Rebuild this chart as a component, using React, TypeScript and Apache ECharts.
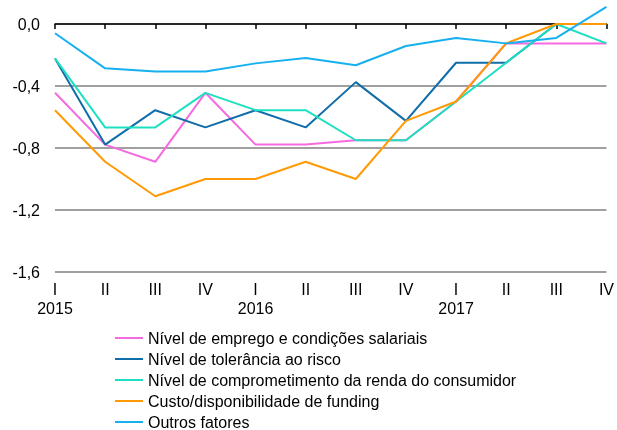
import React, { useEffect, useRef } from "react";
import * as echarts from "echarts";

const quarters = ["I", "II", "III", "IV", "I", "II", "III", "IV", "I", "II", "III", "IV"];
const years = ["2015", "", "", "", "2016", "", "", "", "2017", "", "", ""];

const seriesNames = [
  "Nível de emprego e condições salariais",
  "Nível de tolerância ao risco",
  "Nível de comprometimento da renda do consumidor",
  "Custo/disponibilidade de funding",
  "Outros fatores",
];

const emprego = [-0.444, -0.778, -0.889, -0.444, -0.778, -0.778, -0.75, -0.75, -0.5, -0.125, -0.125, -0.125];
const tolerancia = [-0.222, -0.778, -0.556, -0.667, -0.556, -0.667, -0.375, -0.625, -0.25, -0.25, 0, 0];
const comprometimento = [-0.222, -0.667, -0.667, -0.444, -0.556, -0.556, -0.75, -0.75, -0.5, -0.25, 0, -0.125];
const funding = [-0.556, -0.889, -1.111, -1.0, -1.0, -0.889, -1.0, -0.625, -0.5, -0.125, 0, 0];
const outros = [-0.06, -0.286, -0.306, -0.306, -0.254, -0.22, -0.266, -0.142, -0.09, -0.125, -0.09, 0.11];

const seriesData = [emprego, tolerancia, comprometimento, funding, outros];
const colors = ["#F66AE0", "#0F6DAA", "#1EE0C0", "#FF9A05", "#17B0EF"];

const FONT = "'Liberation Sans', Arial, sans-serif";

export default function App() {
  const ref = useRef<HTMLDivElement>(null);

  useEffect(() => {
    if (!ref.current) return;
    const chart = echarts.init(ref.current, undefined, { renderer: "svg" });
    const categories = quarters.map((q, i) => (years[i] ? q + "\n" + years[i] : q));
    chart.setOption({
      animation: false,
      textStyle: { fontFamily: FONT },
      grid: { left: 55, right: 5, top: 24, bottom: 158 },
      legend: {
        orient: "vertical",
        left: 115,
        top: 330,
        height: 120,
        padding: 0,
        icon: "rect",
        itemWidth: 28,
        itemHeight: 2,
        itemGap: 5,
        textStyle: { fontSize: 16, color: "#000", fontFamily: FONT },
        data: seriesNames,
      },
      xAxis: {
        type: "category",
        boundaryGap: false,
        data: categories,
        axisLine: { show: true, lineStyle: { color: "#000", width: 1.5 } },
        axisTick: { show: true, length: 5, lineStyle: { color: "#000", width: 1.5 }, interval: 0 },
        axisLabel: {
          interval: 0,
          fontSize: 16,
          lineHeight: 19,
          margin: 8,
          color: "#000",
          fontFamily: FONT,
        },
        splitLine: { show: false },
      },
      yAxis: {
        type: "value",
        min: -1.6,
        max: 0,
        interval: 0.4,
        axisLine: { show: false },
        axisTick: { show: false },
        axisLabel: {
          fontSize: 16,
          margin: 15,
          color: "#000",
          fontFamily: FONT,
          formatter: (v: number) => {
            const r = Math.abs(v) < 1e-9 ? 0 : v;
            return r.toFixed(1).replace(".", ",");
          },
        },
        splitLine: { show: true, lineStyle: { color: "#808080", width: 1.5 } },
      },
      series: seriesNames.map((name, i) => ({
        name,
        type: "line",
        data: seriesData[i],
        symbol: "none",
        clip: false,
        color: colors[i],
        itemStyle: { color: colors[i] },
        lineStyle: { color: colors[i], width: 2 },
      })),
    });
    return () => chart.dispose();
  }, []);

  return (
    <div
      ref={ref}
      style={{ position: "fixed", left: 0, top: 0, width: 617, height: 430 }}
    />
  );
}
